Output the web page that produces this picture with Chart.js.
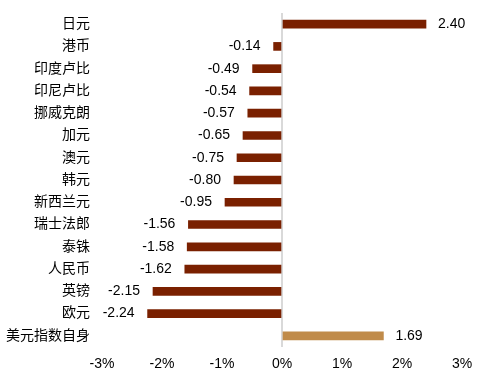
<!DOCTYPE html>
<html>
<head>
<meta charset="utf-8">
<script src="https://cdn.jsdelivr.net/npm/chart.js@4"></script>
<style>
  html, body { margin: 0; padding: 0; background: #fff; }
  #wrap { width: 485px; height: 379px; position: relative; }
</style>
</head>
<body>
<div id="wrap"><canvas id="fxChart"></canvas></div>
<script>
// 各货币对美元涨跌幅 (%)
const currencies = ["日元", "港币", "印度卢比", "印尼卢比", "挪威克朗", "加元", "澳元", "韩元",
    "新西兰元", "瑞士法郎", "泰铢", "人民币", "英镑", "欧元", "美元指数自身"];
const changes = [2.40, -0.14, -0.49, -0.54, -0.57, -0.65, -0.75, -0.80,
    -0.95, -1.56, -1.58, -1.62, -2.15, -2.24, 1.69];
const xTicks = [-3, -2, -1, 0, 1, 2, 3];

const FONT = "'Liberation Sans', Arial, 'Noto Sans CJK SC', sans-serif";
const barColors = currencies.map(c => c === "美元指数自身" ? "#C08B4A" : "#7A2000");

// 数值标签
const valueLabels = {
    id: "valueLabels",
    afterDatasetsDraw(chart) {
        const ctx = chart.ctx;
        const meta = chart.getDatasetMeta(0);
        ctx.save();
        ctx.font = "14px " + FONT;
        ctx.fillStyle = "#000";
        ctx.textBaseline = "middle";
        meta.data.forEach((bar, i) => {
            const v = changes[i];
            if (v >= 0) {
                ctx.textAlign = "left";
                ctx.fillText(v.toFixed(2), bar.x + 12, bar.y);
            } else {
                ctx.textAlign = "right";
                ctx.fillText(v.toFixed(2), bar.x - 13, bar.y);
            }
        });
        ctx.restore();
    }
};

new Chart(document.getElementById("fxChart"), {
    type: "bar",
    data: {
        labels: currencies,
        datasets: [{
            data: changes,
            backgroundColor: barColors,
            borderWidth: 0,
            barThickness: 8,
        }],
    },
    options: {
        indexAxis: "y",
        responsive: true,
        maintainAspectRatio: false,
        animation: false,
        layout: { padding: { top: 13, right: 23, bottom: 0, left: 0 } },
        plugins: {
            legend: { display: false },
            tooltip: { enabled: false },
        },
        scales: {
            x: {
                min: -3,
                max: 3,
                afterBuildTicks: scale => { scale.ticks = xTicks.map(v => ({ value: v })); },
                afterFit: scale => { scale.height = 32; scale.paddingLeft = 0; scale.paddingRight = 0; },
                border: { display: false },
                grid: {
                    drawTicks: false,
                    lineWidth: 2,
                    color: ctx => (ctx.tick && ctx.tick.value === 0) ? "#D9D9D9" : "rgba(0,0,0,0)",
                },
                ticks: {
                    padding: 9,
                    color: "#000",
                    font: { size: 14, family: FONT },
                    callback: v => v + "%",
                },
            },
            y: {
                afterFit: scale => { scale.width = 102; scale.paddingTop = 0; scale.paddingBottom = 0; },
                border: { display: false },
                grid: { display: false, drawTicks: false },
                ticks: {
                    padding: 12,
                    color: "#000",
                    font: { size: 14, family: FONT },
                },
            },
        },
    },
    plugins: [valueLabels],
});
</script>
</body>
</html>
